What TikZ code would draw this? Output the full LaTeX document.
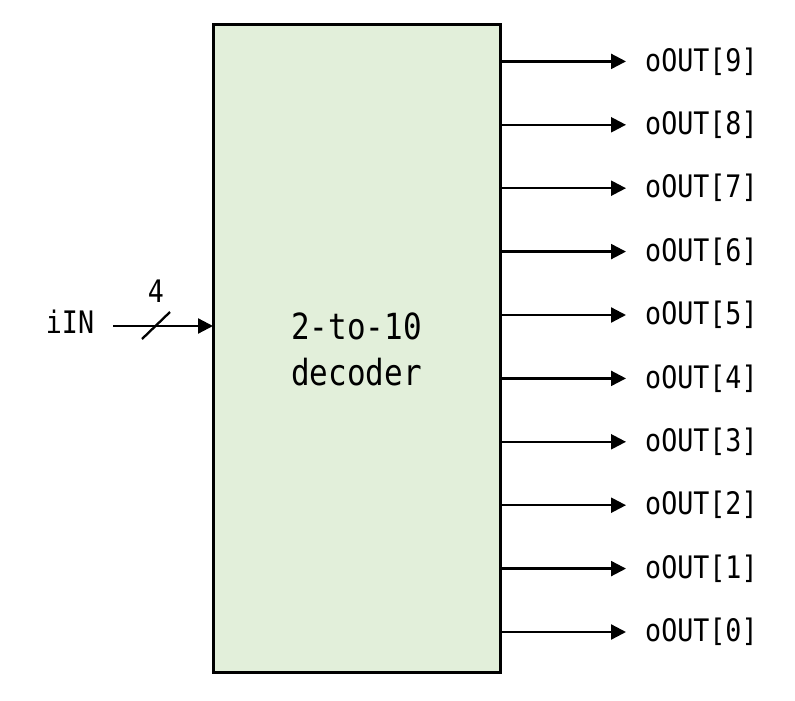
\documentclass[tikz,border=0pt]{standalone}
\usepackage{fontspec}
\setmonofont[FakeStretch=0.86]{DejaVu Sans Mono}
\usetikzlibrary{arrows.meta}
\begin{document}
\begin{tikzpicture}[x=1pt,y=-1pt,
  lbl/.style={font=\ttfamily\fontsize{31}{46}\selectfont, inner sep=0pt},
  big/.style={font=\ttfamily\fontsize{36}{46}\selectfont, inner sep=0pt},
  wire/.style={line width=2.3pt, -{Triangle[length=15pt,width=15pt]}},
  blk/.style={draw=black, line width=3pt, fill={rgb,255:red,226;green,239;blue,218}}]
\useasboundingbox (0,0) rectangle (795,701);
\fill[white] (0,0) rectangle (795,701);
\node[blk, minimum width=287pt, minimum height=647pt, inner sep=0pt] (dec) at (356.5,348.5) {};
\node[big, align=center] (t) at (356.5,349) {2-to-10\\decoder};
\foreach \i in {0,...,9} {
  \pgfmathsetmacro{\yy}{632-63.4*\i}
  \coordinate (s\i) at (500,\yy);
  \node[lbl, anchor=west] (o\i) at (645,\yy) {oOUT[\i]};
  \draw[wire] (s\i) -- (626,\yy);
}
\node[lbl] (iin) at (70,322) {iIN};
\coordinate (inS) at (113,326);
\coordinate (inE) at (213,326);
\draw[wire] (inS) -- (inE);
\coordinate (sl1) at (142,339);
\coordinate (sl2) at (170,312);
\draw[line width=2.3pt] (sl1) -- (sl2);
\node[lbl] (n4) at (156,291) {4};
\end{tikzpicture}
\end{document}
